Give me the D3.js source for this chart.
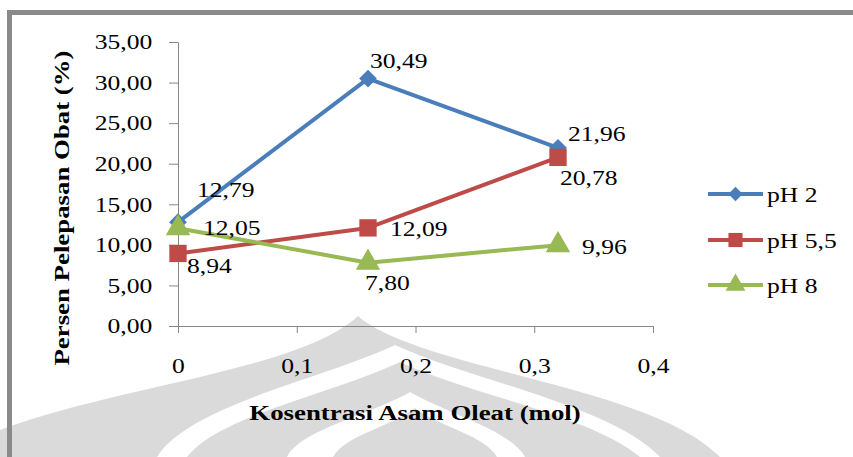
<!DOCTYPE html>
<html lang="en">
<head>
<meta charset="utf-8">
<title>Persen Pelepasan Obat</title>
<script src="https://cdn.jsdelivr.net/npm/d3@7"></script>
<style>
  body { margin: 0; background: #fff; }
  text { font-family: "Liberation Serif", "Times New Roman", serif; }
</style>
</head>
<body>
<div id="chart"></div>
<script>
// data
let konsentrasi = [0, 0.16, 0.32];
let seriesNames = ["pH 2", "pH 5,5", "pH 8"];
let pH2 = [12.79, 30.49, 21.96];
let pH55 = [8.94, 12.09, 20.78];
let pH8 = [12.05, 7.80, 9.96];
let yTicks = [0, 5, 10, 15, 20, 25, 30, 35];
let xTicks = [0, 0.1, 0.2, 0.3, 0.4];

let w = 853, h = 457;
let colors = ["#4a7ebb", "#be4b48", "#98b954"];
let shapes = [d3.symbolDiamond2, d3.symbolSquare, d3.symbolTriangle];
let sx = 1.22; // text in the picture is a bit wide

// label offsets from the point (dx, dy of baseline)
let labelOffsets = [
  [[19, -25], [2, -11], [10, -7]],
  [[9, 20], [22, 8], [2, 28]],
  [[25, 7], [-3, 27], [24, 9]]
];

let svg = d3.select("#chart").append("svg")
  .attr("width", w)
  .attr("height", h);

// watermark (faint logo behind the chart)
let wm = svg.append("g").attr("fill", "#dadada");
wm.append("path").attr("d", "M0,430 C120,385 300,370 358,316 C420,370 650,385 720,457 L0,457 Z");
wm.append("path").attr("fill", "#fff").attr("d", "M157,457 C190,405 320,380 395,345 C470,380 610,405 660,457 Z");
wm.append("path").attr("d", "M187,457 C220,415 330,395 400,362 C470,395 590,415 640,457 Z");
wm.append("path").attr("fill", "#fff").attr("d", "M287,457 C300,430 370,415 410,392 C450,415 510,430 525,457 Z");
wm.append("path").attr("d", "M333,457 C345,435 395,425 415,408 C435,425 485,435 497,457 Z");

// frame
svg.append("path")
  .attr("d", "M9.5,470 V12.5 H870")
  .attr("fill", "none")
  .attr("stroke", "#8a8a8a")
  .attr("stroke-width", 5);

let x = d3.scaleLinear().domain([0, 0.4]).range([178, 653]);
let y = d3.scaleLinear().domain([0, 35]).range([326, 42]);

let fmt = d => d.toFixed(2).replace(".", ",");

// y axis
let yAxis = svg.append("g")
  .attr("transform", "translate(178,0)")
  .call(d3.axisLeft(y).tickValues(yTicks).tickSize(9).tickSizeOuter(0).tickFormat(fmt));
yAxis.selectAll("text")
  .attr("x", -21)
  .attr("font-size", 21)
  .attr("fill", "#000")
  .attr("transform", `scale(${sx},1)`);

// x axis
let xAxis = svg.append("g")
  .attr("transform", "translate(0,326)")
  .call(d3.axisBottom(x).tickValues(xTicks).tickSize(7).tickSizeOuter(0)
    .tickFormat(d => d === 0 ? "0" : String(d).replace(".", ",")));
xAxis.selectAll("text")
  .attr("y", 47)
  .attr("dy", 0)
  .attr("font-size", 21)
  .attr("fill", "#000")
  .attr("transform", `scale(${sx},1)`);

svg.selectAll(".domain, .tick line").attr("stroke", "#868686");

// axis titles
svg.append("text")
  .attr("transform", `translate(415,420) scale(${sx},1)`)
  .attr("text-anchor", "middle")
  .attr("font-size", 22)
  .attr("font-weight", "bold")
  .text("Kosentrasi Asam Oleat (mol)");

svg.append("text")
  .attr("transform", `translate(69,208) rotate(-90) scale(${sx},1)`)
  .attr("text-anchor", "middle")
  .attr("font-size", 22)
  .attr("font-weight", "bold")
  .text("Persen Pelepasan Obat (%)");

// lines and markers
let allSeries = [pH2, pH55, pH8];
let line = d3.line()
  .x((d, i) => x(konsentrasi[i]))
  .y(d => y(d));

let symbolSizes = [200, 300, 260];

allSeries.forEach(function (values, s) {
  svg.append("path")
    .datum(values)
    .attr("d", line)
    .attr("fill", "none")
    .attr("stroke", colors[s])
    .attr("stroke-width", 4)
    .attr("stroke-linejoin", "round");

  svg.selectAll(".m" + s)
    .data(values)
    .enter()
    .append("path")
      .attr("class", "m" + s)
      .attr("d", d3.symbol().type(shapes[s]).size(symbolSizes[s]))
      .attr("transform", (d, i) => `translate(${x(konsentrasi[i])},${y(d)})`)
      .attr("fill", colors[s]);
});

// data labels
allSeries.forEach(function (values, s) {
  svg.selectAll(".l" + s)
    .data(values)
    .enter()
    .append("text")
      .attr("class", "l" + s)
      .attr("transform", (d, i) => `translate(${x(konsentrasi[i]) + labelOffsets[s][i][0]},${y(d) + labelOffsets[s][i][1]}) scale(${sx},1)`)
      .attr("font-size", 21)
      .text(d => fmt(d));
});

// legend
let legendY = [194, 240, 285];
let legend = svg.selectAll(".legend")
  .data(seriesNames)
  .enter()
  .append("g")
    .attr("class", "legend")
    .attr("transform", (d, i) => `translate(708,${legendY[i]})`);

legend.append("line")
  .attr("x1", 0).attr("x2", 55)
  .attr("stroke", (d, i) => colors[i])
  .attr("stroke-width", 4);

legend.append("path")
  .attr("d", (d, i) => d3.symbol().type(shapes[i]).size([130, 200, 170][i])())
  .attr("transform", "translate(27.5,0)")
  .attr("fill", (d, i) => colors[i]);

legend.append("text")
  .attr("transform", `translate(59,8) scale(${sx},1)`)
  .attr("font-size", 21)
  .text(d => d);
</script>
</body>
</html>
